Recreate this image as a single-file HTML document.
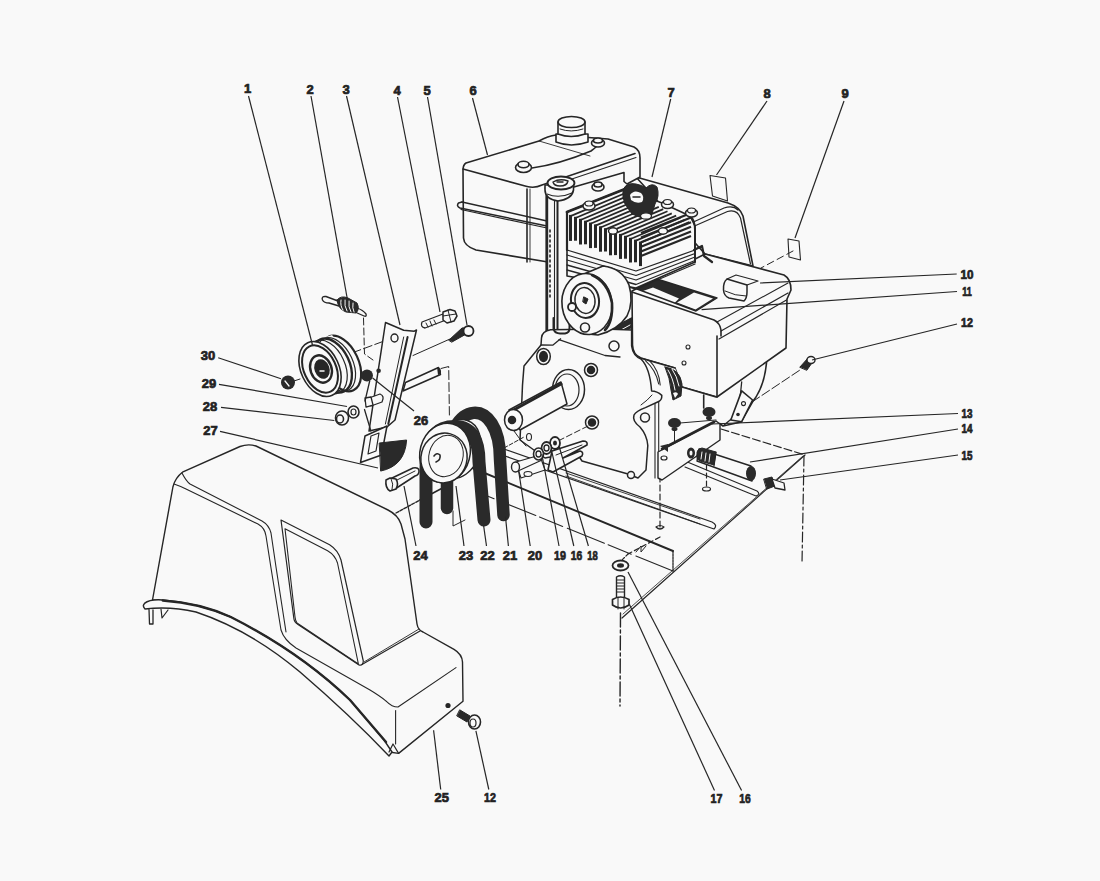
<!DOCTYPE html>
<html><head><meta charset="utf-8">
<style>
html,body{margin:0;padding:0;background:#f9f9f9;width:1100px;height:881px;overflow:hidden}
svg{display:block}
text{font-family:"Liberation Sans",sans-serif;font-weight:bold;font-size:13px;fill:#222;stroke:#222;stroke-width:0.7px}
</style></head><body>
<svg width="1100" height="881" viewBox="0 0 1100 881">
<rect width="1100" height="881" fill="#f9f9f9"/>
<g id="frame" stroke="#262626" stroke-width="1.2" fill="none" stroke-linejoin="round" stroke-linecap="round">
<!-- plate front edges -->
<path d="M396 513 L420 500" stroke-dasharray="3 1.5" stroke-width="1.4"/>
<path d="M420 500 L450 484" stroke-width="1.5"/>
<path d="M470 467 L673 551" stroke-width="1.9"/>
<path d="M673 551 L673 571" stroke-width="1.3" stroke-dasharray="2 1"/>
<path d="M673 571 L480 493" stroke-width="1.1" stroke-dasharray="40 5 25 4"/>
<path d="M622 618 L805 455"/>
<path d="M623 614 L803 456" stroke-width="0.8"/>
<path d="M721 429 L805 455" stroke-dasharray="8 3"/>
<path d="M804 456 L802 563" stroke-dasharray="10 3 3 3"/>
<path d="M620.5 613 L620 706" stroke-dasharray="14 3 3 3" stroke-width="1.4"/>
<!-- rib / top surface lines -->
<path d="M504 449 L712 522 Q718 525 714 529 L505 456"/>
<path d="M566 473 L700 519" stroke-width="0.9"/>
<path d="M566 476 L700 524" stroke-width="0.9"/>
<path d="M685 461 L757 491 Q761 494 756 496 L685 467" stroke-width="1.1"/>
<!-- holes / dashed axes -->
<path d="M660 458 L660 530" stroke-dasharray="6 3"/>
<path d="M656 527 Q660 524 664 527 Q660 531 656 527" />
<path d="M706.5 465 L706.5 486" stroke-dasharray="5 3"/>
<ellipse cx="706.5" cy="489" rx="4" ry="2"/>
<path d="M660 537 L628 554" stroke-dasharray="5 3"/>
<path d="M636 552 L641 546 L641 552 L646 546" stroke-width="1"/>
<path d="M628 554 L620 562" stroke-dasharray="3 2"/>
</g>

<g id="engine" stroke="#262626" stroke-width="1.6" fill="#f9f9f9" stroke-linejoin="round" stroke-linecap="round">
<!-- cowling behind (part 7) -->
<path d="M636 177 L728 203 Q740 207 743 216 L753 266 L705 254 Z"/>
<path d="M694.5 221.5 L724 208 Q733 205 738 210" fill="none" stroke-width="1.2"/>
<path d="M694.5 226 L727.5 211.5 Q737 209 740.5 218 L750.5 264" fill="none" stroke-width="1.2"/>
<!-- decal 8 -->
<path d="M710 175.5 L725.5 178 L727.5 201 L712.5 196 Z" stroke-width="1.1"/>
<!-- decal 9 -->
<path d="M788 239 L799 241 L800.5 260 L789 257 Z" stroke-width="1.1"/>
<path d="M793 251 L761 268" fill="none" stroke-width="1" stroke-dasharray="7 4"/>
<!-- crankcase lower right (behind box) -->
<path d="M767 355 Q766 385 752.6 401.8 L741 422 L723 426 L704 412 L704 394 L716 396 Z"/>
<path d="M741.7 381.8 Q740 405 734.5 416.3 L723.6 425.4" fill="none" stroke-width="1.3"/>
<path d="M741.7 390.9 L752.6 400 L741.7 421.7 L730.8 420 Z" stroke-width="1.6"/>
<circle cx="743.5" cy="403.6" r="2" fill="none" stroke-width="1.1"/>
<circle cx="738" cy="414.5" r="1.8" fill="#262626" stroke="none"/>
<path d="M752 402 L800 370" fill="none" stroke-width="1" stroke-dasharray="9 3"/>
<!-- blower housing box -->
<path d="M632 291 L705 254 L784 275 Q791 279 791 290 L787 299 L786 348 L717 397 L682 387 L675 368 L641 358 Q633 355 632.5 345 Z"/>
<path d="M632 292 L714 320 Q720 323 721 330 L721 336" fill="none"/>
<path d="M721 331 L788 293" fill="none" stroke-width="1.2"/>
<path d="M719 339 L786.5 300" fill="none" stroke-width="1.2"/>
<path d="M717 322 L788 283" fill="none" stroke-width="1.1"/>
<path d="M717 336 L717 397" fill="none"/>
<circle cx="688" cy="347" r="2" fill="none" stroke-width="1.1"/>
<circle cx="684" cy="363" r="2" fill="none" stroke-width="1.1"/>
<!-- label 11 on top -->
<path d="M637 289 L657 279 L717 298 L696 311 Z" fill="#2a2a2a" stroke="none"/>
<path d="M640 292 L653 287.5 L679 298.5 L674.5 303 Z" fill="#f9f9f9" stroke="none"/>
<path d="M677 302.5 L694 292.5 L713 298.5 L695.5 309.5 Z" fill="#f9f9f9" stroke="none"/>
<path d="M637 289 L657 279 L717 298 L696 311 Z" fill="none" stroke-width="1.4"/>
<!-- cap 10 -->
<path d="M727 279 Q723 282 723.5 290 Q724 296 729 298 L744 301 Q747 298 747 292 L747 285 Z" stroke-width="1.5"/>
<path d="M727 279 L736 275 L758 281 L747 285" fill="none" stroke-width="1.2"/>
<path d="M725 291 Q735 296 746 296" fill="none" stroke-width="1"/>
<!-- fuel tank (part 6) -->
<path d="M466 163 L539 141 Q548 136 556 135 L608 139 L634 147 Q640 150 640 158 L640 177 L627 184 L624 181.5 L624 172.5 L567 189 L548 194 L548 262 L476 250 Q464 246 463.5 238 L463 170 Q463 165 466 163 Z"/>
<path d="M463 169 L527 186.5 Q535 188.5 542 185 L635 153.5" fill="none"/>
<path d="M545 188 L636 157.5" fill="none" stroke-width="1.1"/>
<path d="M527 189 L527 262" fill="none"/>
<path d="M530 189 L530 262" fill="none" stroke-width="0.9"/>
<path d="M462 202 L458.5 203 Q456 206 460 208 L547 226" fill="none" stroke-width="1.5"/>
<path d="M462 202 L547 221" fill="none" stroke-width="1.3"/>
<path d="M461 209.5 L547 228" fill="none" stroke-width="1.2"/>
<path d="M532 168 Q560 164 591 151 Q598 146 600 142" fill="none"/>
<path d="M539 141 L590 156" fill="none" stroke-width="0.9"/>
<!-- filler cap -->
<path d="M556 134 L556 142 Q571 148 588 142 L588 134 Z"/>
<path d="M558 122 L558 134 Q571 139 585 134 L585 122 Z"/>
<ellipse cx="571.5" cy="122" rx="13.5" ry="5.5"/>
<path d="M560 129 Q571 133 583 129" fill="none" stroke-width="1"/>
<!-- top bolts -->
<ellipse cx="523.5" cy="167.5" rx="8" ry="5"/>
<ellipse cx="523.5" cy="164.5" rx="5.5" ry="3.2"/>
<ellipse cx="598" cy="143" rx="6.5" ry="4"/>
<ellipse cx="598" cy="140.5" rx="4.5" ry="2.5"/>
<ellipse cx="598" cy="187" rx="6" ry="4"/>
<ellipse cx="598" cy="184.5" rx="4" ry="2.5"/>
<!-- cylinder head -->
<path d="M567 212 L625 189 L662 203 L690 216 L695 226 L695 262 L636 288 L567 276 Z"/>
<path d="M570.5 240.9 L570.5 214.9" fill="none" stroke-width="3" stroke-linecap="butt"/><path d="M570.5 216.1 L628.5 191.8" fill="none" stroke-width="1.7" stroke-linecap="butt"/>
<path d="M575.5 240.7 L575.5 216.8" fill="none" stroke-width="3" stroke-linecap="butt"/><path d="M575.5 218.0 L632.8 193.9" fill="none" stroke-width="1.7" stroke-linecap="butt"/>
<path d="M580.5 244.5 L580.5 218.8" fill="none" stroke-width="3" stroke-linecap="butt"/><path d="M580.5 220.0 L637.2 196.1" fill="none" stroke-width="1.7" stroke-linecap="butt"/>
<path d="M585.5 244.3 L585.5 220.7" fill="none" stroke-width="3" stroke-linecap="butt"/><path d="M585.5 221.9 L641.5 198.2" fill="none" stroke-width="1.7" stroke-linecap="butt"/>
<path d="M590.5 248.1 L590.5 222.6" fill="none" stroke-width="3" stroke-linecap="butt"/><path d="M590.5 223.8 L645.8 200.4" fill="none" stroke-width="1.7" stroke-linecap="butt"/>
<path d="M595.5 247.9 L595.5 224.4" fill="none" stroke-width="3" stroke-linecap="butt"/><path d="M595.5 225.6 L650.2 202.6" fill="none" stroke-width="1.7" stroke-linecap="butt"/>
<path d="M600.5 251.7 L600.5 226.3" fill="none" stroke-width="3" stroke-linecap="butt"/><path d="M600.5 227.5 L654.5 204.8" fill="none" stroke-width="1.7" stroke-linecap="butt"/>
<path d="M605.5 251.5 L605.5 228.2" fill="none" stroke-width="3" stroke-linecap="butt"/><path d="M605.5 229.4 L658.8 206.9" fill="none" stroke-width="1.7" stroke-linecap="butt"/>
<path d="M610.5 255.3 L610.5 230.2" fill="none" stroke-width="3" stroke-linecap="butt"/><path d="M610.5 231.4 L663.2 209.1" fill="none" stroke-width="1.7" stroke-linecap="butt"/>
<path d="M615.5 255.1 L615.5 232.1" fill="none" stroke-width="3" stroke-linecap="butt"/><path d="M615.5 233.3 L667.5 211.2" fill="none" stroke-width="1.7" stroke-linecap="butt"/>
<path d="M620.5 258.9 L620.5 233.9" fill="none" stroke-width="3" stroke-linecap="butt"/><path d="M620.5 235.1 L671.8 213.4" fill="none" stroke-width="1.7" stroke-linecap="butt"/>
<path d="M625.5 258.7 L625.5 235.8" fill="none" stroke-width="3" stroke-linecap="butt"/><path d="M625.5 237.0 L676.2 215.6" fill="none" stroke-width="1.7" stroke-linecap="butt"/>
<path d="M630.5 262.5 L630.5 237.8" fill="none" stroke-width="3" stroke-linecap="butt"/><path d="M630.5 239.0 L680.5 217.8" fill="none" stroke-width="1.7" stroke-linecap="butt"/>
<path d="M635.5 262.3 L635.5 239.7" fill="none" stroke-width="3" stroke-linecap="butt"/><path d="M635.5 240.9 L684.8 219.9" fill="none" stroke-width="1.7" stroke-linecap="butt"/>
<path d="M640.5 266.1 L640.5 241.6" fill="none" stroke-width="3" stroke-linecap="butt"/><path d="M640.5 242.8 L689.2 222.1" fill="none" stroke-width="1.7" stroke-linecap="butt"/>
<path d="M567 212 L625 189" fill="none" stroke-width="2.8"/>
<path d="M567 212 L567 250" fill="none" stroke-width="2.2"/>
<path d="M641 233.0 L691 213.0" fill="none" stroke-width="2.2" stroke-linecap="butt"/>
<path d="M641 237.6 L691 217.6" fill="none" stroke-width="2.2" stroke-linecap="butt"/>
<path d="M641 242.2 L691 222.2" fill="none" stroke-width="2.2" stroke-linecap="butt"/>
<path d="M641 246.8 L691 226.8" fill="none" stroke-width="2.2" stroke-linecap="butt"/>
<path d="M641 251.4 L691 231.4" fill="none" stroke-width="2.2" stroke-linecap="butt"/>
<path d="M641 256.0 L691 236.0" fill="none" stroke-width="2.2" stroke-linecap="butt"/>
<path d="M690 216 Q695 220 695 230 L695 262" fill="none" stroke-width="2"/>
<path d="M567 250 L636 271.0 L695 250.0" fill="none" stroke-width="1.3"/>
<path d="M567 255 L636 275.5 L695 253.5" fill="none" stroke-width="1.3"/>
<path d="M567 260 L636 280.0 L695 257.0" fill="none" stroke-width="1.3"/>
<path d="M567 265 L636 284.5 L695 260.5" fill="none" stroke-width="1.3"/>
<path d="M567 270 L636 289.0 L695 264.0" fill="none" stroke-width="1.3"/>
<!-- head bolts -->
<ellipse cx="589" cy="206" rx="6" ry="4" stroke-width="1.5"/><ellipse cx="589" cy="203.5" rx="4" ry="2.5" stroke-width="1.2"/>
<ellipse cx="667.5" cy="204.5" rx="6" ry="4" stroke-width="1.5"/><ellipse cx="667.5" cy="202" rx="4" ry="2.5" stroke-width="1.2"/>
<ellipse cx="691.5" cy="213" rx="6" ry="4" stroke-width="1.5"/><ellipse cx="691.5" cy="210.5" rx="4" ry="2.5" stroke-width="1.2"/>
<ellipse cx="613" cy="231" rx="4.5" ry="3.2" stroke-width="1.4"/>
<ellipse cx="663" cy="231" rx="4.5" ry="3.2" stroke-width="1.4"/>
<!-- spark plug -->
<path d="M623 190 Q626 182 636 184 Q642 185 646 188 Q652 182 657 187 Q660 196 655 204 L652 214 L642 218 L632 214 L625 204 Q622 197 623 190 Z" fill="#2a2a2a" stroke-width="1"/>
<path d="M630 195 Q634 189 641 193 Q645 197 642 202 Q636 204 631 200 Z" fill="#f9f9f9" stroke="none"/>
<path d="M633 197 L640 197" stroke-width="1.5"/>
<ellipse cx="646" cy="216" rx="5.5" ry="3.2" fill="#f9f9f9" stroke-width="1.3"/>
<!-- wire bracket right of head -->
<path d="M694 250 L702 246 L704 256 L712 262" fill="none" stroke-width="2.2"/>
<!-- oil fill tube / dipstick -->
<path d="M546.5 192 L546.5 333 L557.5 333 L557.5 192 Z" stroke-width="2"/>
<path d="M547 196 L547 333" fill="none" stroke-width="2.4"/>
<path d="M554.5 198 L554.5 331" fill="none" stroke-width="1.1"/>
<path d="M550 230 L550 300" fill="none" stroke-width="1.6" stroke-dasharray="2 3"/>
<path d="M545 190 Q545 199 558 201 Q572 199 573.5 190 L573.5 185 L545 185 Z" stroke-width="1.6"/>
<path d="M547 194 Q559 199 572 193" fill="none" stroke-width="1.1"/>
<ellipse cx="561" cy="183" rx="13.5" ry="6.5" stroke-width="1.8"/>
<path d="M553 182 Q560 178 568 181 Q567 186 560 186 Q554 186 553 182 Z" fill="none" stroke-width="1.4"/>
<path d="M557 182 L563 182" fill="none" stroke-width="1.4"/>
<!-- hatch under pulley -->
<path d="M607 331 L631 318 L632 338 L612 340 Z" fill="#2a2a2a" stroke-width="1"/>
<path d="M610 336 L630 325 M612 339 L631 329 M616 340 L631 333" stroke="#f9f9f9" stroke-width="1"/>


</g>
<g id="gear" stroke="#262626" stroke-width="1.5" fill="#f9f9f9" stroke-linejoin="round" stroke-linecap="round">
<!-- crankcase fill region behind gear case -->
<path d="M600 330 L631.6 330 L631.6 346 Q633 356 640 358 L675 368 L682 387 L716 397 L720 424 L658 452 L650 480 L620 470 Z" stroke="none"/>
<path d="M631.6 318 L631.6 346 Q633 356 640 358 L675 368" fill="none"/>
<path d="M682 387 L716 397" fill="none"/>
<path d="M703.7 395 L703.7 408" fill="none" stroke-width="1.6"/>
<!-- dark curved fin -->
<path d="M665 367 Q680 369 682 384 L681 396 L673 400 L671 390 Q670 378 665 367 Z" fill="#2a2a2a" stroke-width="1"/>
<path d="M668 370 Q673 378 675 390 M672 369 Q677 376 679 386" fill="none" stroke="#f9f9f9" stroke-width="1"/>
<path d="M673 393 Q677 391 678 394 L675 398 Z" fill="#f9f9f9" stroke="none"/>
<!-- flange curves -->
<path d="M645.4 360.6 Q656 370 658.7 384" fill="none" stroke-width="1.1"/>
<path d="M649.5 360.6 Q659 370 660.2 385" fill="none" stroke-width="1.1"/>
<path d="M655 402 L655 478" fill="none" stroke-width="1.1"/>
<path d="M658.7 401 L658.7 470" fill="none" stroke-width="1.1"/>
<!-- gear case -->
<path d="M541 345 L541.5 338 Q542 331 550.7 329.7 L604 329 L631.6 330 L631.6 346 Q633 356 641 359 Q650 368 651.6 391 Q657 391 661.8 395.4 Q662 400 658.7 401.5 L645.4 407.6 Q636 411 634 415 Q632 421 640 427 Q647 435 647.8 445.5 L646 470 L638 478 L628 474 L582 461 L576 452 L545 458 L520 440 L522 397 L522.5 385 L524 366 Z"/>
<path d="M652 395 Q648 400 641 405" fill="none" stroke-width="1"/>
<path d="M559 339.6 L605 355.5 L620 357" fill="none" stroke-width="1.3"/>
<path d="M541 345 L552.7 345.2 L560.6 338.8" fill="none" stroke-width="1.3"/>
<!-- bolts on gear case -->
<ellipse cx="543.5" cy="356.5" rx="6.8" ry="8"/><ellipse cx="543.5" cy="356.5" rx="3.8" ry="5" fill="#262626"/>
<circle cx="591" cy="370" r="6.5"/><circle cx="591" cy="370" r="3.5" fill="#262626"/>
<circle cx="592" cy="422.5" r="6.5"/><circle cx="592" cy="422.5" r="3.5" fill="#262626"/>
<circle cx="614" cy="346" r="5"/>
<circle cx="645" cy="417.5" r="4.5"/>
<circle cx="585" cy="327.5" r="4.5"/>
<circle cx="631" cy="475" r="3.5"/>
<!-- seal + shaft -->
<ellipse cx="568.5" cy="389.5" rx="16" ry="20"/>
<ellipse cx="567" cy="390" rx="12" ry="16" stroke-width="1.2"/>
<path d="M509 410 L561 382 L567 404 L520 430 Z"/>
<path d="M510 412 L561 384" fill="none" stroke-width="3"/>
<ellipse cx="513.5" cy="420" rx="9" ry="10.5"/>
<circle cx="512" cy="420" r="3.5" fill="#262626"/>
</g>

<g id="pulley" stroke="#262626" stroke-width="1.6" fill="#f9f9f9" stroke-linejoin="round" stroke-linecap="round">
<!-- tube collar -->
<path d="M553.5 318 L553.5 329 Q555 333.5 560 333.5 L565 333.5 Q569.5 333 569.5 328 L569.5 318" fill="none" stroke-width="2"/>
<!-- front pulley (starter) -->
<path d="M584 274 L603 266 Q622 268 629 285 Q634 302 627 316 Q618 330 598 335 L588 334 Z"/>
<ellipse cx="587" cy="304" rx="25" ry="30.5" transform="rotate(-8 587 304)"/>
<path d="M592 275 Q608 282 612 303 Q613 322 605 330" fill="none" stroke-width="2.6"/>
<ellipse cx="585" cy="300.5" rx="14" ry="17.5" transform="rotate(-8 585 300.5)" stroke-width="2"/>
<ellipse cx="585" cy="300.5" rx="10" ry="13" transform="rotate(-8 585 300.5)" stroke-width="1.4"/>
<path d="M584 297 L588 299 L586 304 L583 302 Z" fill="#262626" stroke-width="1"/>
<circle cx="572" cy="307" r="4" stroke-width="1.8"/>
<circle cx="585" cy="327.5" r="4.5" stroke-width="1.6"/>
</g>

<g id="right" stroke="#262626" stroke-width="1.4" fill="#f9f9f9" stroke-linejoin="round" stroke-linecap="round">
<!-- bolt 12 (upper right) -->
<path d="M800 367 L808 358 Q812 356 814 360 L807 370 Z" fill="#2a2a2a" stroke-width="1"/>
<ellipse cx="811" cy="360" rx="4" ry="3.5" fill="#f9f9f9" stroke-width="1.4"/>
<!-- nuts 13 -->
<ellipse cx="709" cy="412" rx="6.5" ry="5" fill="#2a2a2a" stroke="none"/>
<ellipse cx="709" cy="418" rx="3" ry="2" fill="#2a2a2a" stroke="none"/>
<ellipse cx="674.5" cy="423" rx="6.5" ry="5" fill="#2a2a2a" stroke="none"/>
<ellipse cx="674.5" cy="429" rx="3" ry="2" fill="#2a2a2a" stroke="none"/>
<path d="M674.5 430 L674.5 445" fill="none" stroke-width="1"/>
<path d="M680 423 L716 420" fill="none" stroke-width="1"/>
<!-- mount block -->
<path d="M658 452 L716 421 L720 424 L720 440 L662 480 L658 478 Z"/>
<path d="M662 449 L714 422" fill="none" stroke-width="2.6"/>
<path d="M660 446 L668 444 L668 452 Z" fill="#2a2a2a" stroke="none"/>
<ellipse cx="664" cy="458" rx="3" ry="2" fill="none" stroke-width="1.2"/>
<!-- nut near spacer -->
<ellipse cx="691" cy="453" rx="4" ry="5.5" fill="#2a2a2a" stroke="none"/>
<ellipse cx="691" cy="453" rx="1.5" ry="2.5" fill="#f9f9f9" stroke="none"/>
<!-- spacer 14 -->
<path d="M699 449 L751 466 L752 481 L697 461 Z" stroke-width="1.4"/>
<path d="M697 455 Q696 449 702 448 L716 452 L714 465 L700 461 Q696 459 697 455 Z" fill="#2a2a2a" stroke-width="1"/>
<path d="M702 452 L701 459 M706 453 L705 461 M710 454 L709 462" stroke="#f9f9f9" stroke-width="1"/>
<path d="M716 452 L714 466" fill="none" stroke-width="1.2"/>
<ellipse cx="751" cy="473.5" rx="5" ry="7.5" fill="#2a2a2a" stroke="none"/>
<!-- bolt 15 -->
<path d="M764 479 L772 477 L775 486 L767 489 Z" fill="#2a2a2a" stroke-width="1"/>
<path d="M772 479 L784 483 L785 490 L775 488 Z" stroke-width="1.3"/>
</g>

<g id="link" stroke="#262626" stroke-width="1.4" fill="#f9f9f9" stroke-linejoin="round" stroke-linecap="round">
<!-- axis lines -->
<path d="M588 426 L560 440" fill="none" stroke-width="1" stroke-dasharray="6 3"/>
<path d="M514 431 Q520 440 526 446" fill="none" stroke-width="1"/>
<ellipse cx="529" cy="437" rx="2.5" ry="3.5" fill="none" stroke-width="1.1"/>
<path d="M504 448 L524 437" fill="none" stroke-width="1" stroke-dasharray="4 2"/>
<!-- bracket plate -->
<path d="M516 463 L540 456 L545 470 L521 478 Z" stroke-width="1.1"/>
<ellipse cx="528" cy="474" rx="4" ry="2.5" stroke-width="1.1"/>
<!-- bolt 20 -->
<path d="M516 462 L540 455 L542 460 L518 471 Z" stroke-width="1.2"/>
<ellipse cx="515.5" cy="467" rx="4" ry="5" stroke-width="1.4"/>
<!-- lever 18 -->
<path d="M548 470 L552 451 L583 441 Q588 441 587 445 L563 458 L580 451 Q584 452 582 456 L553 472 Z" stroke-width="1.6"/>
<path d="M556 455 L582 445" fill="none" stroke-width="1"/>
<!-- washers 19, 16 -->
<ellipse cx="555" cy="443" rx="5" ry="6" stroke-width="1.8"/>
<ellipse cx="555" cy="443" rx="2" ry="2.5" fill="#262626" stroke="none"/>
<ellipse cx="546.5" cy="448" rx="5" ry="6" stroke-width="1.8"/>
<ellipse cx="546.5" cy="448" rx="2.5" ry="3" fill="none" stroke-width="1.4"/>
<ellipse cx="538.5" cy="454" rx="5" ry="6" stroke-width="1.6"/>
<ellipse cx="538.5" cy="454" rx="2.5" ry="3" fill="none" stroke-width="1.3"/>
<!-- bolt 17 + washer 16 -->
<ellipse cx="620.5" cy="565.5" rx="8" ry="5" stroke-width="1.8"/>
<ellipse cx="620.5" cy="565.5" rx="3.5" ry="2.2" fill="#262626" stroke="none"/>
<path d="M616.5 577 L616.5 599 L624.5 599 L624.5 577 Q620.5 574.5 616.5 577 Z" stroke-width="1.4"/>
<path d="M617 580 L624 580 M617 583 L624 583 M617 586 L624 586 M617 589 L624 589 M617 592 L624 592" fill="none" stroke-width="1"/>
<path d="M612.5 599.5 L612.5 605 Q620.5 611 629 605 L629 599.5 Q620.5 594.5 612.5 599.5 Z" stroke-width="1.7"/>
<path d="M618 597 L618 609 M624 597 L624 609" fill="none" stroke-width="1"/>
</g>

<g id="belts" stroke-linejoin="round" stroke-linecap="round">
<!-- back belt (21) -->
<path d="M447 508 L447 465 C447 398, 500 395, 500 459 L503.5 515" fill="none" stroke="#2a2a2a" stroke-width="12.5"/>
<!-- pulley rear flange -->
<ellipse cx="458" cy="449" rx="22" ry="30" transform="rotate(18 458 449)" fill="#f9f9f9" stroke="#262626" stroke-width="1.4"/>
<!-- front belt (22) -->
<path d="M426 522 L426 470 C426 432, 440 426.5, 455 426.5 C472 426.5, 479 440, 479 462 L484 520" fill="none" stroke="#2a2a2a" stroke-width="13"/>
<!-- pulley front flange -->
<ellipse cx="445" cy="453" rx="25" ry="30" transform="rotate(15 445 453)" fill="#f9f9f9" stroke="#262626" stroke-width="1.5"/>
<!-- pulley face (23) -->
<ellipse cx="444" cy="458" rx="23" ry="25" transform="rotate(15 444 458)" fill="#f9f9f9" stroke="#262626" stroke-width="1.5"/>
<ellipse cx="446" cy="456" rx="17" ry="21" transform="rotate(15 446 456)" fill="none" stroke="#262626" stroke-width="1"/>
<path d="M434 456 Q437 452 440 455 Q441 460 436 462" fill="none" stroke="#262626" stroke-width="1.6"/>
<!-- small plate between legs -->
<path d="M453 511 L453 526 L465 520" fill="none" stroke="#262626" stroke-width="1"/>
<!-- bolt 24 -->
<path d="M390 479 L413 468 Q419 467 419 471 Q419 475 415 476 L395 489 Z" fill="#f9f9f9" stroke="#262626" stroke-width="1.5"/>
<path d="M397 480 L415 471" fill="none" stroke="#262626" stroke-width="1"/>
<path d="M386 480 Q385 488 390 491 L396 489 Q399 484 396 479 L390 478 Z" fill="#f9f9f9" stroke="#262626" stroke-width="1.6"/>
<path d="M391 478.5 Q394 484 392 490" fill="none" stroke="#262626" stroke-width="1"/>
</g>

<g id="idler" stroke="#262626" stroke-width="1.5" fill="#f9f9f9" stroke-linejoin="round" stroke-linecap="round">
<!-- axis lines -->
<path d="M363.5 318 L364.5 354 L373 360" fill="none" stroke-width="1" stroke-dasharray="7 3"/>
<path d="M341 357 L395 337" fill="none" stroke-width="1" stroke-dasharray="9 3"/>
<path d="M441 368.5 L448.7 366.5 L449.4 415" fill="none" stroke-width="1" stroke-dasharray="9 3"/>
<path d="M413 355.5 L450 339" fill="none" stroke-width="1"/>
<!-- idler pulley (1) -->
<g>
<ellipse cx="341" cy="363.5" rx="17.5" ry="29.5" transform="rotate(-25 341 363.5)" stroke-width="2.2"/>
<path d="M311 342 L332 335 L357 367 L328 396 Z" stroke="none"/>
<ellipse cx="336" cy="364.5" rx="17" ry="28.5" transform="rotate(-25 336 364.5)" fill="none" stroke-width="1.2"/>
<ellipse cx="332" cy="365.5" rx="17.5" ry="28.5" transform="rotate(-25 332 365.5)" fill="none" stroke-width="2.4"/>
<ellipse cx="327" cy="367" rx="18" ry="28.5" transform="rotate(-25 327 367)" fill="none" stroke-width="1.2"/>
<ellipse cx="320" cy="369" rx="19" ry="29" transform="rotate(-25 320 369)" stroke-width="1.6"/>
<ellipse cx="320" cy="369" rx="16" ry="25" transform="rotate(-25 320 369)" fill="none" stroke-width="2"/>
<ellipse cx="321" cy="369" rx="10.5" ry="14" transform="rotate(-20 321 369)" stroke-width="2.4"/>
<ellipse cx="322" cy="369" rx="7.5" ry="10" transform="rotate(-20 322 369)" fill="#262626" stroke="none"/>
<path d="M320 371 L324 371" stroke="#f9f9f9" stroke-width="1.5"/>
</g>
<!-- nut 30 -->
<circle cx="288" cy="382.5" r="7" fill="#2a2a2a" stroke="none"/>
<path d="M285 381 L289 386" stroke="#f9f9f9" stroke-width="1.3"/>
<path d="M294 381 L300 379" fill="none" stroke-width="1"/>
<!-- spring (2) -->
<path d="M338 301 L326 296.5 Q321 296 322.5 300 Q324 303 329 303 L339 306" fill="none" stroke-width="1.4"/>
<path d="M355 312 L364 316 Q367 317 366 314 Q363 310 357 308" fill="#f9f9f9" stroke-width="1.3"/>
<path d="M337 300 Q341 295 348 298 L357 303 Q360 309 356 313 L346 312 Q338 309 337 300 Z" fill="#2a2a2a" stroke-width="1"/>
<path d="M341 300 Q340 306 343 310 M345 300 Q344 306 347 311 M349 301 Q348 307 351 312 M353 303 Q352 308 354 312" fill="none" stroke="#f9f9f9" stroke-width="1"/>
<!-- bolt 4 -->
<path d="M422 322 L443 314 L446 320 L425 328 Q420 327 422 322 Z" stroke-width="1.3"/>
<path d="M426 323 L428 327 M430 321 L432 326 M434 320 L436 324" fill="none" stroke-width="1"/>
<path d="M443 312 L450 309.5 L455 311 L457 316 L454 321 L447 323 L443 320 Z" stroke-width="1.5"/>
<path d="M448 310 L451 322 M443 316 L456 314" fill="none" stroke-width="1"/>
<!-- bolt 5 -->
<path d="M449 340 L462 328 Q468 327 468 333 L452 342 Z" fill="#2a2a2a" stroke-width="1"/>
<ellipse cx="468.5" cy="331" rx="5" ry="5" stroke-width="1.8"/>
<!-- bracket (3) -->
<path d="M385.5 322.5 L403.7 330.3 L414.3 331.2 L416.5 330 L395 420 L387 427 L369 431 Z"/>
<path d="M407.6 337 L388.3 424" fill="none" stroke-width="2"/>
<path d="M403.7 337 L385.4 424" fill="none" stroke-width="1"/>
<ellipse cx="394.5" cy="338" rx="3.5" ry="4" stroke-width="1.4"/>
<!-- rod -->
<path d="M405.5 382.5 L438.5 367.5 L440.5 374.5 L403 391 Z" stroke-width="1.5"/>
<path d="M437 367 Q442 368 441 374 L438 375 Z" fill="#262626" stroke="none"/>
<!-- nut 26 + dot -->
<circle cx="367" cy="375.5" r="6" fill="#2a2a2a" stroke="none"/>
<circle cx="378.6" cy="370.8" r="2.3" fill="#2a2a2a" stroke="none"/>
<!-- pivot stud -->
<path d="M369 398 L380 394 Q385 396 382 402 L371 406 Z" stroke-width="1.3"/>
<path d="M365 398 L371 397 L373 405 L366 407 Z" stroke-width="1.3"/>
<!-- washers 29, 28 -->
<ellipse cx="353.5" cy="412" rx="5.5" ry="6" stroke-width="1.6"/>
<ellipse cx="353.5" cy="412" rx="2.5" ry="3" stroke-width="1.2"/>
<ellipse cx="342" cy="418" rx="6.5" ry="7" stroke-width="1.6"/>
<ellipse cx="340" cy="419" rx="3.5" ry="4" stroke-width="1.6"/>
<path d="M369.7 381 L365 401" fill="none" stroke-width="1.3"/>
<path d="M364.5 409.5 L370.9 431" fill="none" stroke-width="1.3"/>
<!-- foot plate with slot -->
<path d="M365 436 L387 426 L381.5 455 L360.5 462.5 Z"/>
<path d="M371 436 L379 433 L376 451 L368 454 Z" stroke-width="1.2"/>
<!-- belt guide 27 -->
<path d="M379.6 443 L406.6 440 Q405 466 381 471 Z" fill="#2a2a2a" stroke-width="1"/>
</g>

<g id="shroud" stroke="#262626" stroke-width="1.4" fill="#f9f9f9" stroke-linejoin="round" stroke-linecap="round">
<!-- outer body -->
<path d="M152.5 600 L172.9 487 Q175 478 183 471.8 L240 446.5 Q248 443.5 256 446 L388 510 Q398 515 401 524 L405 539 L417 624 Q418 630 423 632 L454 649.3 Q462 654 462.5 662 L463 701.3 L398.6 753.4 L389 752 Q330 690 230.8 617 Q190 602 152.5 600 Z"/>
<!-- flange -->
<path d="M144.5 603.4 Q150 599 162.7 600 Q200 603 230.8 617 Q300 652 350 700 L384 740 L392 752 L389 756 Q350 715 300 672 Q250 630 196 612 Q170 606 145 609 Q142 606 144.5 603.4 Z"/>
<path d="M162.7 600.5 Q200 603 230.8 617 Q300 652 350 700 L386 742" fill="none" stroke-width="2.4"/>
<path d="M149 609 L149.5 624 L153 624 L153 610" stroke-width="1.3"/>
<path d="M161 609 L162 618 L168 610" fill="none" stroke-width="1.2"/>
<path d="M389 752 L393 744 L398.6 753.4" fill="none" stroke-width="1.2"/>
<!-- rib lines -->
<path d="M182 473 Q186 481 190 484 L262 521 Q269 525 271 533 L276 567 L286 632" fill="none" stroke-width="1.1"/>
<path d="M174 484 Q180 486 186 489 L258 524 Q265 528 266 536 L271 568 L281 630 Q284 640 296 648 L370 690 Q380 696 386.4 701.3" fill="none" stroke-width="1.1"/>
<!-- window -->
<path d="M281 520 L329.6 544.7 Q338 550 341 560 L363.3 661 Q363 666 359 665 L298 624.5 Q294 622 293.8 618 Z" fill="none" stroke-width="1.2"/>
<path d="M285 528.8 L327.6 550.7 Q335 555 337.5 563 L358.4 664 L297 623 Q295.5 621 295 617 Z" fill="none" stroke-width="1.1"/>
<path d="M362 664.6 L420 631" fill="none" stroke-width="1.2"/>
<path d="M364 662 L419 629" fill="none" stroke-width="0.9"/>
<!-- lower band -->
<path d="M386.4 701.3 Q392 707 398 707 L456 667.6" fill="none" stroke-width="1.1"/>
<path d="M395.6 710.5 L395.6 744" fill="none" stroke-width="1.1"/>
<!-- hole + bolt 12 -->
<circle cx="448" cy="705.5" r="2.6" fill="#262626" stroke="none"/>
<path d="M460 710 L470 716 L467 722 L457 716 Z" fill="#2a2a2a" stroke-width="1"/>
<ellipse cx="474.5" cy="722" rx="6" ry="7" stroke-width="1.6"/>
<ellipse cx="473" cy="723" rx="3" ry="4" fill="none" stroke-width="1.2"/>
</g>

<g id="labels" text-anchor="middle">
<text x="247.5" y="93">1</text>
<text x="310" y="94">2</text>
<text x="346" y="94">3</text>
<text x="397" y="94.5">4</text>
<text x="427" y="94.5">5</text>
<text x="473" y="95">6</text>
<text x="671" y="97">7</text>
<text x="767" y="98">8</text>
<text x="845" y="98">9</text>
<text x="967" y="279" textLength="13" lengthAdjust="spacingAndGlyphs">10</text>
<text x="967" y="296" textLength="9.6" lengthAdjust="spacingAndGlyphs">11</text>
<text x="967" y="327" textLength="12" lengthAdjust="spacingAndGlyphs">12</text>
<text x="967" y="417.5" textLength="11" lengthAdjust="spacingAndGlyphs">13</text>
<text x="967" y="433" textLength="11" lengthAdjust="spacingAndGlyphs">14</text>
<text x="967" y="460" textLength="11" lengthAdjust="spacingAndGlyphs">15</text>
<text x="745" y="803" textLength="11.5" lengthAdjust="spacingAndGlyphs">16</text>
<text x="716.5" y="803" textLength="12" lengthAdjust="spacingAndGlyphs">17</text>
<text x="592.5" y="560" textLength="10.5" lengthAdjust="spacingAndGlyphs">18</text>
<text x="560" y="560" textLength="12" lengthAdjust="spacingAndGlyphs">19</text>
<text x="576.5" y="560" textLength="11.5" lengthAdjust="spacingAndGlyphs">16</text>
<text x="535" y="560">20</text>
<text x="510" y="560">21</text>
<text x="487.5" y="560">22</text>
<text x="466" y="560">23</text>
<text x="420.5" y="560">24</text>
<text x="441.7" y="802">25</text>
<text x="490" y="802" textLength="12" lengthAdjust="spacingAndGlyphs">12</text>
<text x="421" y="424.5">26</text>
<text x="210.5" y="435">27</text>
<text x="210" y="411">28</text>
<text x="209" y="388">29</text>
<text x="208" y="359.5">30</text>
</g>
<g id="leaders" stroke="#262626" stroke-width="1.2" fill="none">
<path d="M248.5 96 L312.5 345"/>
<path d="M311 96 L347.5 300"/>
<path d="M346.5 96 L400 325"/>
<path d="M397.5 97 L440 312"/>
<path d="M427.5 97 L467 325"/>
<path d="M472.5 98 L487.5 155"/>
<path d="M670.7 99 L652 177"/>
<path d="M767 101 L716.5 175"/>
<path d="M844 101 L795 238"/>
<path d="M956.7 274 L760 283"/>
<path d="M957 291.5 L701.6 309.6"/>
<path d="M957 324 L812 360"/>
<path d="M958 413.5 L712 424"/>
<path d="M958 429 L750 462"/>
<path d="M958 455 L780 480"/>
<path d="M741.6 790.5 L628 572"/>
<path d="M714.5 790.5 L629.5 604.6"/>
<path d="M416 546 L404 486"/>
<path d="M464 546 L456 486"/>
<path d="M486.5 546 L483.6 525.5"/>
<path d="M508.4 546 L505.5 516.7"/>
<path d="M530.2 546 L518.5 470"/>
<path d="M559 546 L541.8 454"/>
<path d="M573.8 546 L552 452.7"/>
<path d="M588.4 546 L559.3 447"/>
<path d="M440.7 789.5 L433.6 730.2"/>
<path d="M488.8 789.5 L475.9 730.9"/>
<path d="M414 411 L372.6 378"/>
<path d="M220 431.4 L378 468"/>
<path d="M221 407.3 L334.3 420.5"/>
<path d="M219 384.3 L347 406.5"/>
<path d="M218.2 357.8 L281 378.7"/>
</g>


</svg>
</body></html>
